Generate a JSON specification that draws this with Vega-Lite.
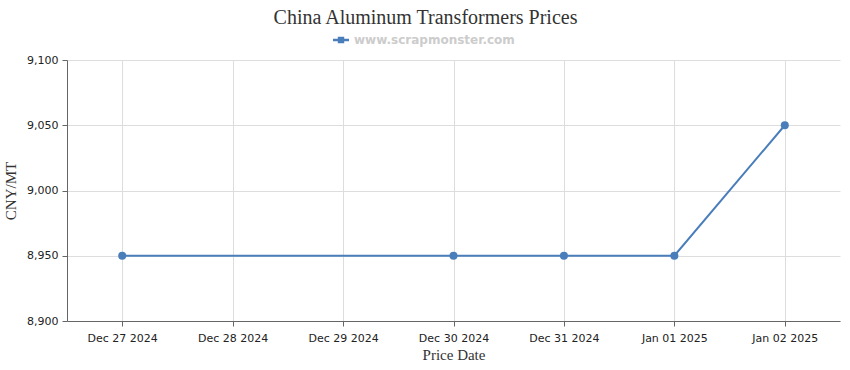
{
  "$schema": "https://vega.github.io/schema/vega-lite/v6.json",
  "autosize": "none",
  "width": 773,
  "height": 261,
  "padding": {"left": 67, "top": 60, "right": 10, "bottom": 49},
  "background": "white",
  "title": {
    "text": "China Aluminum Transformers Prices",
    "font": "Liberation Serif",
    "fontSize": 20,
    "fontWeight": "normal",
    "color": "#333333",
    "anchor": "middle",
    "dx": -28,
    "dy": 18,
    "offset": 6,
    "baseline": "alphabetic"
  },
  "data": {
    "values": [
      {"date": "Dec 27 2024", "price": 8950},
      {"date": "Dec 30 2024", "price": 8950},
      {"date": "Dec 31 2024", "price": 8950},
      {"date": "Jan 01 2025", "price": 8950},
      {"date": "Jan 02 2025", "price": 9050}
    ]
  },
  "config": {
    "view": {"stroke": null},
    "axis": {
      "labelFont": "DejaVu Sans",
      "labelFontSize": 11,
      "labelColor": "#222222",
      "titleFont": "Liberation Serif",
      "titleFontSize": 15,
      "titleFontWeight": "normal",
      "titleColor": "#333333",
      "gridColor": "#dddddd",
      "gridWidth": 1,
      "domainColor": "#666666",
      "tickColor": "#666666",
      "tickSize": 5
    }
  },
  "encoding": {
    "x": {
      "field": "date",
      "type": "ordinal",
      "sort": null,
      "scale": {
        "type": "point",
        "padding": 0.5,
        "domain": ["Dec 27 2024", "Dec 28 2024", "Dec 29 2024", "Dec 30 2024", "Dec 31 2024", "Jan 01 2025", "Jan 02 2025"]
      },
      "axis": {
        "title": "Price Date",
        "labelAngle": 0,
        "grid": true,
        "labelPadding": 6,
        "titlePadding": 4
      }
    },
    "y": {
      "field": "price",
      "type": "quantitative",
      "scale": {"domain": [8900, 9100], "nice": false, "zero": false},
      "axis": {
        "title": "CNY/MT",
        "values": [8900, 8950, 9000, 9050, 9100],
        "format": ",d",
        "labelPadding": 4,
        "titlePadding": 8,
        "grid": true
      }
    },
    "color": {
      "datum": "www.scrapmonster.com",
      "type": "nominal",
      "scale": {"range": ["#4a7ebb"]},
      "legend": {
        "title": null,
        "orient": "none",
        "legendX": 266,
        "legendY": -28,
        "labelFont": "DejaVu Sans",
        "labelFontSize": 12,
        "labelFontWeight": "bold",
        "labelColor": "#cccccc",
        "labelLimit": 400,
        "symbolType": "M-1,-0.15H1V0.15H-1Z M-0.4,-0.4H0.4V0.4H-0.4Z",
        "symbolSize": 256,
        "symbolStrokeWidth": 0,
        "symbolFillColor": "#4a7ebb",
        "labelOffset": 5
      }
    }
  },
  "layer": [
    {"mark": {"type": "line", "strokeWidth": 2}},
    {"mark": {"type": "point", "filled": true, "size": 64, "opacity": 1}}
  ]
}
